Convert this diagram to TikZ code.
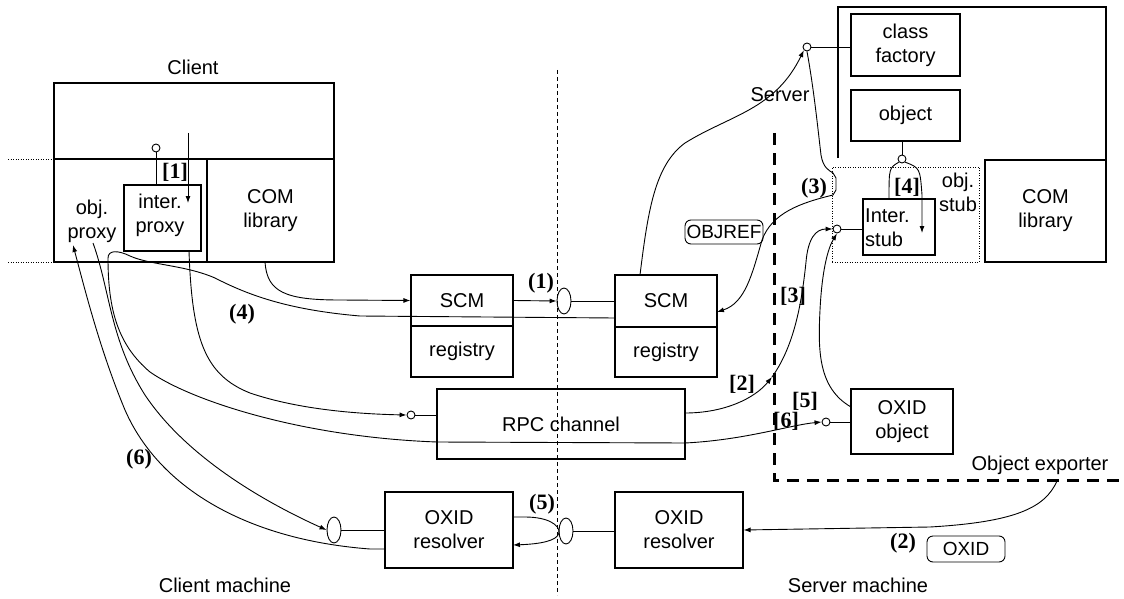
\documentclass[tikz,border=0pt]{standalone}
\usepackage{fontspec}
\setmainfont{Liberation Sans}
\newfontfamily\lblfont{Liberation Serif}
\usetikzlibrary{shapes.geometric,arrows.meta,calc}
\begin{document}
\begin{tikzpicture}[x=1pt,y=-1pt,
  every node/.style={font=\fontsize{20}{24}\selectfont},
  box/.style={draw,line width=1.1pt,rectangle,inner sep=0pt,align=center},
  txt/.style={inner sep=0pt,align=center},
  lbl/.style={font=\lblfont\bfseries\fontsize{22}{22}\selectfont,inner sep=0pt},
  lolli/.style={draw,circle,minimum size=8pt,inner sep=0pt,fill=white,line width=0.9pt},
  oval/.style={draw,ellipse,minimum width=14pt,minimum height=26pt,inner sep=0pt,line width=0.9pt},
  conn/.style={line width=0.9pt},
  arr/.style={conn,-{Latex[length=7pt,width=5pt]}},
  tag/.style={draw,rounded corners=6pt,inner sep=0pt,minimum height=24pt,line width=0.9pt,font=\fontsize{19}{20}\selectfont},
  sidedot/.style={line width=0.9pt,dash pattern=on 1pt off 1.5pt},
  divide/.style={line width=0.9pt,dash pattern=on 4pt off 3pt},
  exporter/.style={line width=3pt,dash pattern=on 12pt off 8pt},
  stubbox/.style={draw,line width=0.9pt,dash pattern=on 1pt off 1.5pt,inner sep=0pt}
]
\useasboundingbox (0,0) rectangle (1124,599);

% ---------- client side ----------
\node[box,minimum width=280pt,minimum height=179pt] (client) at (194,172.5) {};
\draw[line width=1.1pt] (54,159) -- (334,159);
\node[box,minimum width=127pt,minimum height=103pt] (comL) at (270.5,210.5) {COM\\library};
\node[box,minimum width=77pt,minimum height=66pt] (iproxy) at (162.5,218) {};
\node[txt] (ipt) at (160,215) {inter.\\proxy};
\node[txt] (opt) at (92,221) {obj.\\proxy};
\node[txt] (clientlbl) at (193,67) {Client};
\draw[sidedot] (8,159) -- (54,159);
\draw[sidedot] (8,262) -- (54,262);

\node[lolli] (cIP) at (156,148) {};
\draw[conn] (cIP.south) -- (cIP.south |- iproxy.north);
\coordinate (ipArrS) at (188,133);
\coordinate (ipArrE) at (188,203);
\draw[arr] (ipArrS) -- (ipArrE);
\node[lbl] (l1b) at (175,172) {[1]};

% ---------- middle boxes ----------
\node[box,minimum width=102pt,minimum height=51pt] (scmL) at (462,300.5) {SCM};
\node[box,minimum width=102pt,minimum height=51pt] (regL) at (462,351.5) {registry};
\node[box,minimum width=102pt,minimum height=52pt] (scmR) at (666,301) {SCM};
\node[box,minimum width=102pt,minimum height=50pt] (regR) at (666,352) {registry};
\node[box,minimum width=248pt,minimum height=70pt] (rpc) at (561,424) {RPC channel};
\node[box,minimum width=128pt,minimum height=76pt] (oxidL) at (449,530) {OXID\\resolver};
\node[box,minimum width=128pt,minimum height=76pt] (oxidR) at (679,530) {OXID\\resolver};

\draw[divide] (557,70) -- (557,595);

% ---------- server side ----------
\draw[line width=1.1pt] (838,158) -- (838,7) -- (1106,7) -- (1106,160);
\node[box,minimum width=109pt,minimum height=62pt] (classfac) at (905.5,45) {class\\factory};
\node[box,minimum width=109pt,minimum height=51pt] (object) at (905.5,115.5) {object};
\node[box,minimum width=121pt,minimum height=102pt] (comR) at (1045.5,211) {COM\\library};
\node[stubbox,minimum width=147pt,minimum height=95pt] (stub) at (905.5,214.5) {};
\node[txt] (stubt) at (958,192) {obj.\\stub};
\node[box,minimum width=72pt,minimum height=56pt] (istub) at (899,227) {};
\node[txt,anchor=west,align=left] (ist) at (865,228) {Inter.\\stub};
\node[box,minimum width=102pt,minimum height=65pt] (oxidobj) at (902,421.5) {OXID\\object};
\node[txt] (serverlbl) at (780,95) {Server};
\node[txt] (explbl) at (1040,465) {Object exporter};
\draw[exporter] (774,133) -- (774,480) -- (1124,480);

% ---------- lollipops ----------
\node[oval] (e1) at (564,301) {};
\node[oval] (e5) at (566,531) {};
\node[oval] (eL) at (334,530) {};
\node[lolli] (cRPC) at (411,415) {};
\node[lolli] (cCF) at (807,47) {};
\node[lolli] (cObj) at (902,159) {};
\node[lolli] (cStub) at (837,229) {};
\node[lolli] (cOX) at (826,422) {};

\draw[conn] (cRPC.east) -- (cRPC.east -| rpc.west);
\draw[conn] (cCF.east) -- (cCF.east -| classfac.west);
\draw[conn] (cObj.north) -- (cObj.north |- object.south);
\draw[conn] (cStub.east) -- (cStub.east -| istub.west);
\draw[conn] (cOX.east) -- (cOX.east -| oxidobj.west);
\draw[conn] (e1.east) -- (e1.east -| scmR.west);
\draw[conn] (e5.east) -- (e5.east -| oxidR.west);
\draw[conn] (eL.east) -- (eL.east -| oxidL.west);

% ---------- coordinates ----------
\coordinate (hook) at (108,258);
\coordinate (p4) at (615,318);
\coordinate (proxyin) at (73,245);
\coordinate (proxyout) at (93,243);
\coordinate (ipb) at (189,251);
\coordinate (comLb) at (265,262);
\coordinate (q6) at (385,549);
\coordinate (rpcR) at (685,413);
\coordinate (m2) at (772,377);
\coordinate (scmRt) at (640,275);
\coordinate (scmRe) at (717,312);
\coordinate (oxoNW) at (851,407);
\coordinate (expo) at (1057,481);
\coordinate (r5a) at (513,517);
\coordinate (r5b) at (513,545);
\coordinate (stArrE) at (922,233);

% ---------- connectors ----------
% COM library -> SCM (1)
\draw[arr] (comLb) .. controls (267,292) and (285,300) .. (340,300) -- (scmL.west);
\draw[arr] (scmL.east) -- (e1.west);
% (4)
\draw[conn] (hook) .. controls (108,250) and (118,250) .. (130,256)
  .. controls (150,265) and (185,265) .. (215,278)
  .. controls (250,296) and (290,310) .. (360,316) -- (p4);
% hook -> OXID object [6]
\draw[arr] (hook) .. controls (108,310) and (118,345) .. (150,372)
  .. controls (190,400) and (300,437) .. (437,442) -- (685,443)
  .. controls (745,440) and (790,425) .. (cOX.west);
% (6) OXID resolver -> obj proxy
\draw[arr] (q6) -- (370,549) .. controls (250,540) and (160,490) .. (125,410)
  .. controls (100,350) and (85,290) .. (proxyin);
% obj proxy -> OXID resolver lollipop
\draw[arr] (proxyout) .. controls (110,290) and (110,340) .. (145,395)
  .. controls (185,455) and (260,500) .. (eL.west);
% inter proxy -> RPC
\draw[arr] (ipb) .. controls (192,340) and (205,375) .. (250,393)
  .. controls (300,410) and (360,414) .. (cRPC.west);
% (5)
\draw[arr] (r5a) -- (525,517) .. controls (548,517) and (560,525) .. (559,533)
  .. controls (557,541) and (540,544) .. (r5b);
% (2)
\draw[arr] (expo) .. controls (1045,508) and (1015,522) .. (930,527) -- (oxidR.east);
% [2] and [3]
\draw[arr] (rpcR) .. controls (725,413) and (755,398) .. (m2);
\draw[arr] (m2) .. controls (795,345) and (802,300) .. (806,262)
  .. controls (808,238) and (816,229) .. (cStub.west);
% OXID object -> stub
\draw[arr] (oxoNW) .. controls (818,388) and (818,350) .. (820,310)
  .. controls (822,270) and (828,248) .. (cStub.south);
% SCM -> class factory
\draw[arr] (scmRt) .. controls (648,210) and (655,165) .. (685,143)
  .. controls (730,115) and (775,110) .. (cCF.south west);
% (3) class factory -> SCM
\draw[arr] (cCF.south) .. controls (814,90) and (818,130) .. (821,155)
  .. controls (823,167) and (828,170) .. (833,173) -- (836,178) -- (836,190) -- (833,195)
  .. controls (800,203) and (772,213) .. (762,240)
  .. controls (752,275) and (745,303) .. (scmRe);
% [4]
\draw[conn] (cObj.south west) .. controls (889,168) .. (889,199);
\draw[arr] (cObj.south east) .. controls (920,168) .. (922,195) -- (stArrE);

% ---------- labels ----------
\node[lbl] (l1) at (541,283) {(1)};
\node[lbl] (l4) at (242,314) {(4)};
\node[lbl] (l6) at (139,459) {(6)};
\node[lbl] (l5) at (542,504) {(5)};
\node[lbl] (l2b) at (742,384) {[2]};
\node[lbl] (l3b) at (793,296) {[3]};
\node[lbl] (l5b) at (805,401) {[5]};
\node[lbl] (l6b) at (786,421) {[6]};
\node[lbl] (l4b) at (907,187) {[4]};
\node[lbl] (l3) at (814,188) {(3)};
\node[lbl] (l2) at (903,543) {(2)};
\node[tag,minimum width=78pt] (objref) at (724,232) {OBJREF};
\node[tag,minimum width=78pt,minimum height=26pt] (oxidtag) at (966,549) {OXID};
\node[txt] (cm) at (225,585) {Client machine};
\node[txt] (sm) at (858,585) {Server machine};
\end{tikzpicture}
\end{document}
